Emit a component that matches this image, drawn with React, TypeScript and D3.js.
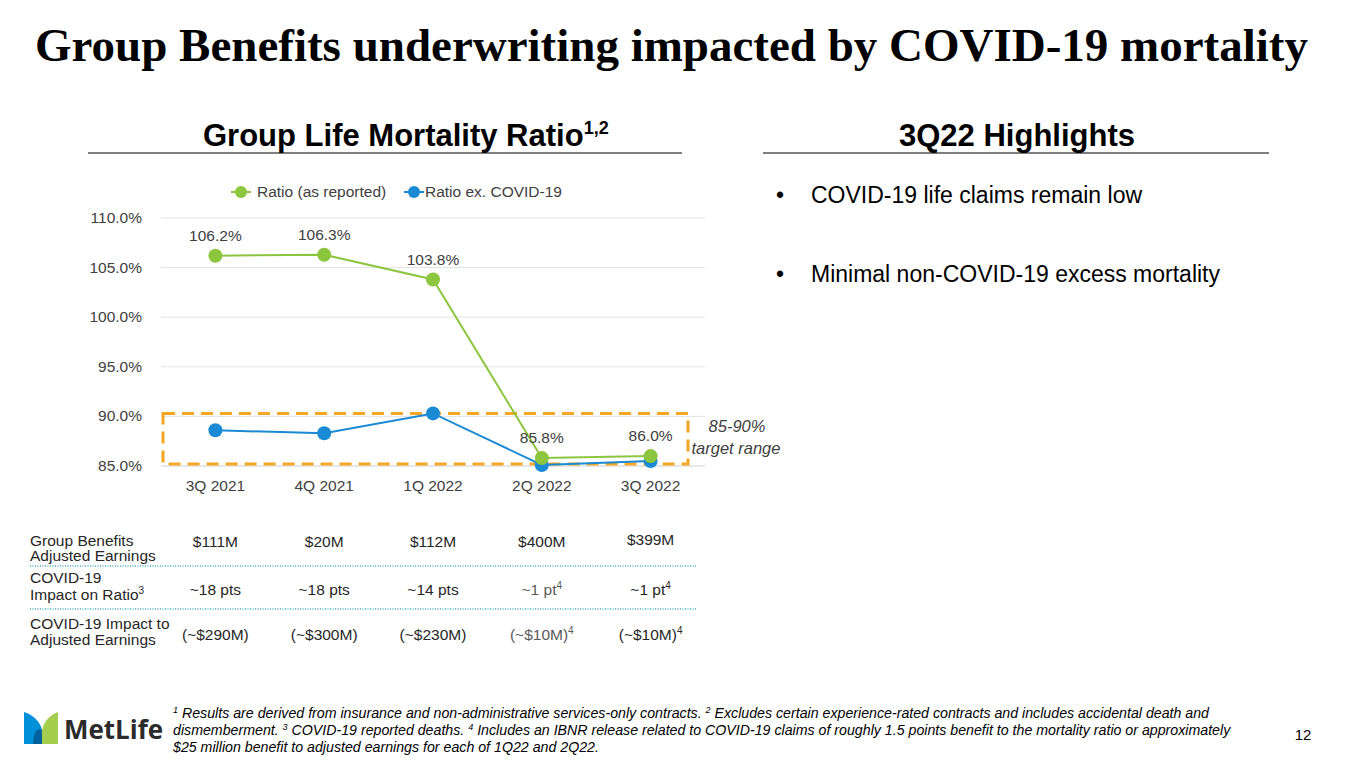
import React from "react";
import * as d3 from "d3";

const quarters = ["3Q 2021", "4Q 2021", "1Q 2022", "2Q 2022", "3Q 2022"];
const ratioReported = [106.2, 106.3, 103.8, 85.8, 86.0];
const ratioExCovid = [88.6, 88.3, 90.3, 85.1, 85.5];
const yTicks = [85, 90, 95, 100, 105, 110];
const targetRange = [85, 90];

const earnings = ["$111M", "$20M", "$112M", "$400M", "$399M"];
const impactPts = ["~18 pts", "~18 pts", "~14 pts", "~1 pt", "~1 pt"];
const impactEarn = ["(~$290M)", "(~$300M)", "(~$230M)", "(~$10M)", "(~$10M)"];
const noteFlags = ["", "", "", "4", "4"];

const highlights = [
  "COVID-19 life claims remain low",
  "Minimal non-COVID-19 excess mortality",
];

const GREEN = "#8CC63F";
const BLUE = "#1A8AD4";
const ORANGE = "#F5A623";
const SANS = "'Liberation Sans', Arial, sans-serif";

export default function App() {
  const x = d3.scaleBand<string>().domain(quarters).range([161, 705]);
  const cx = (q: string) => (x(q) ?? 0) + x.bandwidth() / 2;
  const y = d3.scaleLinear().domain([85, 110]).range([466, 218]);

  const line = d3
    .line<number>()
    .x((_, i) => cx(quarters[i]))
    .y((d) => y(d));

  const fs = 15.5; // body text size

  return (
    <svg
      width={1365}
      height={769}
      style={{ position: "absolute", left: 0, top: 0, background: "#fff" }}
      fontFamily={SANS}
    >
      {/* title */}
      <text
        x={35}
        y={61}
        fontFamily="'Liberation Serif', 'DejaVu Serif', serif"
        fontWeight="bold"
        fontSize={46}
        textLength={1273}
        lengthAdjust="spacingAndGlyphs"
        fill="#000"
      >
        Group Benefits underwriting impacted by COVID-19 mortality
      </text>

      {/* section headers */}
      <text x={203} y={146} fontSize={31} fontWeight="bold" fill="#000">
        Group Life Mortality Ratio
        <tspan fontSize={18} dy={-12}>1,2</tspan>
      </text>
      <line x1={88} x2={682} y1={153} y2={153} stroke="#000" strokeWidth={1.2} />
      <text x={1017} y={146} fontSize={31} fontWeight="bold" textAnchor="middle" fill="#000">
        3Q22 Highlights
      </text>
      <line x1={763} x2={1269} y1={153} y2={153} stroke="#000" strokeWidth={1.2} />

      {/* highlights */}
      {highlights.map((h, i) => (
        <g key={h}>
          <text x={776} y={203 + i * 79} fontSize={23} fill="#000">•</text>
          <text x={811} y={203 + i * 79} fontSize={23} fill="#000">{h}</text>
        </g>
      ))}

      {/* legend */}
      <g fontSize={fs} fill="#404040">
        <line x1={231} x2={251} y1={192} y2={192} stroke={GREEN} strokeWidth={2} />
        <circle cx={241} cy={192} r={6} fill={GREEN} />
        <text x={257} y={197}>Ratio (as reported)</text>
        <line x1={404} x2={424} y1={192} y2={192} stroke={BLUE} strokeWidth={2} />
        <circle cx={414} cy={192} r={6} fill={BLUE} />
        <text x={425} y={197}>Ratio ex. COVID-19</text>
      </g>

      {/* gridlines and y axis */}
      {yTicks.map((t) => (
        <g key={t}>
          <line x1={161} x2={705} y1={y(t)} y2={y(t)} stroke={t === 85 ? "#d0d0d0" : "#e3e3e3"} strokeWidth={1} />
          <text x={142} y={y(t) + 5} textAnchor="end" fontSize={fs} fill="#404040">
            {t.toFixed(1)}%
          </text>
        </g>
      ))}

      {/* x axis labels */}
      {quarters.map((q) => (
        <text key={q} x={cx(q)} y={491} textAnchor="middle" fontSize={fs} fill="#404040">
          {q}
        </text>
      ))}

      {/* target range box */}
      <rect
        x={163}
        y={y(targetRange[1]) - 3}
        width={525}
        height={y(targetRange[0]) - y(targetRange[1]) + 1}
        fill="none"
        stroke={ORANGE}
        strokeWidth={3}
        strokeDasharray="12,7"
      />
      <text x={737} y={432} textAnchor="middle" fontSize={16.5} fontStyle="italic" fill="#404040">
        85-90%
      </text>
      <text x={736} y={454} textAnchor="middle" fontSize={16.5} fontStyle="italic" fill="#404040">
        target range
      </text>

      {/* series */}
      <path d={line(ratioExCovid) ?? ""} fill="none" stroke={BLUE} strokeWidth={2} />
      {ratioExCovid.map((v, i) => (
        <circle key={"b" + i} cx={cx(quarters[i])} cy={y(v)} r={7} fill={BLUE} />
      ))}
      <path d={line(ratioReported) ?? ""} fill="none" stroke={GREEN} strokeWidth={2} />
      {ratioReported.map((v, i) => (
        <circle key={"g" + i} cx={cx(quarters[i])} cy={y(v)} r={7} fill={GREEN} />
      ))}
      {ratioReported.map((v, i) => (
        <text
          key={"l" + i}
          x={cx(quarters[i])}
          y={y(v) - 15}
          textAnchor="middle"
          fontSize={fs}
          fill="#404040"
        >
          {v.toFixed(1)}%
        </text>
      ))}

      {/* table */}
      <g fontSize={fs} fill="#262626">
        <text x={30} y={546}>Group Benefits</text>
        <text x={30} y={561}>Adjusted Earnings</text>
        <text x={30} y={583}>COVID-19</text>
        <text x={30} y={600}>
          Impact on Ratio<tspan fontSize={10} dy={-6}>3</tspan>
        </text>
        <text x={30} y={629}>COVID-19 Impact to</text>
        <text x={30} y={645}>Adjusted Earnings</text>
        {quarters.map((q, i) => (
          <g key={"t" + q}>
            <text x={cx(q)} y={i === 4 ? 545 : 547} textAnchor="middle">{earnings[i]}</text>
            <text x={cx(q)} y={595} textAnchor="middle" fill={i === 3 ? "#595959" : "#262626"}>
              {impactPts[i]}
              {noteFlags[i] && <tspan fontSize={10} dy={-6}>{noteFlags[i]}</tspan>}
            </text>
            <text x={cx(q)} y={640} textAnchor="middle" fill={i === 3 ? "#595959" : "#262626"}>
              {impactEarn[i]}
              {noteFlags[i] && <tspan fontSize={10} dy={-6}>{noteFlags[i]}</tspan>}
            </text>
          </g>
        ))}
      </g>
      <line x1={30} x2={697} y1={566} y2={566} stroke="#4BACC6" strokeWidth={1.3} strokeDasharray="1,1.5" />
      <line x1={30} x2={697} y1={609} y2={609} stroke="#4BACC6" strokeWidth={1.3} strokeDasharray="1,1.5" />

      {/* footnotes */}
      <g fontSize={14.2} fontStyle="italic" fill="#000">
        <text x={173} y={718}>
          <tspan fontSize={9} dy={-5}>1</tspan>
          <tspan dy={5}> Results are derived from insurance and non-administrative services-only contracts. </tspan>
          <tspan fontSize={9} dy={-5}>2</tspan>
          <tspan dy={5}> Excludes certain experience-rated contracts and includes accidental death and</tspan>
        </text>
        <text x={173} y={735}>
          dismemberment. <tspan fontSize={9} dy={-5}>3</tspan>
          <tspan dy={5}> COVID-19 reported deaths. </tspan>
          <tspan fontSize={9} dy={-5}>4</tspan>
          <tspan dy={5}> Includes an IBNR release related to COVID-19 claims of roughly 1.5 points benefit to the mortality ratio or approximately</tspan>
        </text>
        <text x={173} y={752}>$25 million benefit to adjusted earnings for each of 1Q22 and 2Q22.</text>
      </g>
      <text x={1303} y={740} fontSize={15} textAnchor="middle" fill="#000">12</text>

      {/* logo */}
      <g>
        <path d="M24,712 C33,715 40,721 42,730 L42,744 L24,744 Z" fill="#0090DA" />
        <path d="M58,712 L58,744 L42,744 L42,730 C44,721 50,715 58,712 Z" fill="#A4CE4E" />
        <path d="M33,744 C33,733 37,727 42,730 L42,744 Z" fill="#0061A0" />
        <text
          x={64}
          y={739}
          fontSize={27}
          fontWeight="bold"
          fontFamily="'Open Sans', sans-serif"
          fill="#2b2b2b"
          textLength={99}
          lengthAdjust="spacingAndGlyphs"
        >
          MetLife
        </text>
      </g>
    </svg>
  );
}
